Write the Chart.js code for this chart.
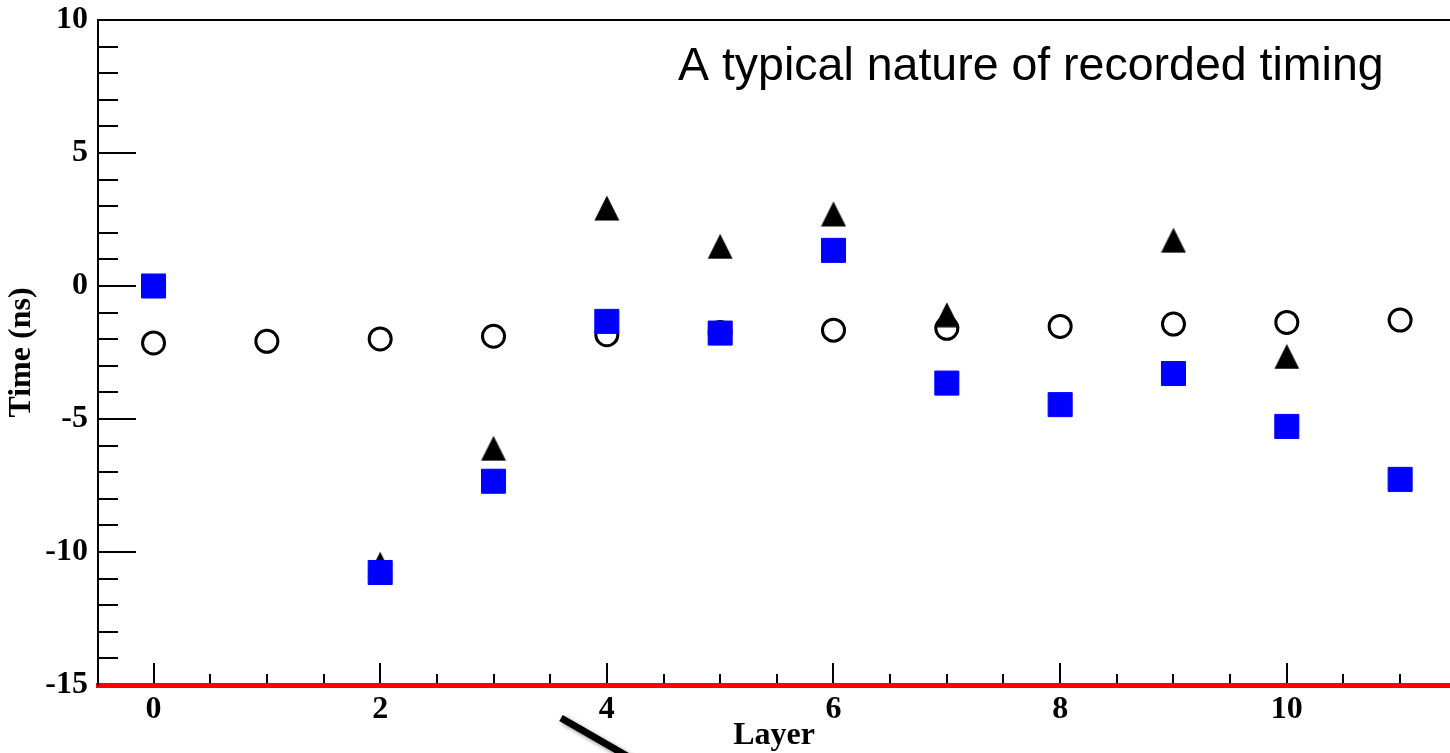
<!DOCTYPE html>
<html>
<head>
<meta charset="utf-8">
<title>Layer timing</title>
<script src="https://cdn.jsdelivr.net/npm/chart.js@4.4.1/dist/chart.umd.min.js"></script>
<style>
  html, body { margin: 0; padding: 0; background: #ffffff; overflow: hidden; }
  canvas { display: block; }
</style>
</head>
<body>
<canvas id="timingChart" width="1450" height="753"></canvas>
<script>
// per-layer recorded times (ns)
const circleLayers = [0, 1, 2, 3, 4, 5, 6, 7, 8, 9, 10, 11];
const circleTimes = [-2.14, -2.08, -1.99, -1.89, -1.83, -1.75, -1.66, -1.59, -1.52, -1.43, -1.37, -1.28];

const triangleLayers = [2, 3, 4, 5, 6, 7, 9, 10];
const triangleTimes = [-10.46, -6.10, 2.93, 1.49, 2.71, -1.08, 1.72, -2.65];

const squareLayers = [0, 2, 3, 4, 5, 6, 7, 8, 9, 10, 11];
const squareTimes = [0, -10.77, -7.34, -1.33, -1.77, 1.34, -3.65, -4.46, -3.29, -5.28, -7.27];

const xTickLabels = [0, 2, 4, 6, 8, 10];
const yTickLabels = [-15, -10, -5, 0, 5, 10];
const noteText = 'A typical nature of recorded timing';

const toPoints = (xs, ys) => xs.map((x, i) => ({ x: x, y: ys[i] }));

const serif = { family: '"Liberation Serif", "Times New Roman", serif', size: 32, weight: 'bold' };

// filled triangle marker, as wide as it is tall
function triangleMarker(size) {
  const c = document.createElement('canvas');
  c.width = size;
  c.height = size;
  const g = c.getContext('2d');
  g.fillStyle = '#000';
  g.beginPath();
  g.moveTo(size / 2, 0.5);
  g.lineTo(size - 0.5, size - 0.5);
  g.lineTo(0.5, size - 0.5);
  g.closePath();
  g.fill();
  return c;
}

// no extra room for the end labels, the frame sits at fixed offsets
const noEdgePadding = s => {
  s.paddingTop = 0;
  s.paddingBottom = 0;
  s.paddingLeft = 0;
  s.paddingRight = 0;
};

// small inward tick marks, top frame line, note text and pointer line
const decorations = {
  id: 'decorations',
  afterDraw(chart) {
    const ctx = chart.ctx;
    const area = chart.chartArea;
    const xs = chart.scales.x;
    const ys = chart.scales.y;
    ctx.save();
    ctx.strokeStyle = '#000';
    ctx.lineWidth = 2;

    // frame top
    ctx.beginPath();
    ctx.moveTo(area.left - 1, area.top);
    ctx.lineTo(area.right, area.top);
    ctx.stroke();

    // y ticks every 1 ns, longer every 5
    for (let v = ys.min + 1; v < ys.max; v++) {
      const py = Math.round(ys.getPixelForValue(v));
      const len = v % 5 === 0 ? 38 : 20;
      ctx.beginPath();
      ctx.moveTo(area.left, py);
      ctx.lineTo(area.left + len, py);
      ctx.stroke();
    }

    // x ticks every half layer, longer on labelled layers
    for (let v = 0; v <= xs.max; v += 0.5) {
      const px = Math.round(xs.getPixelForValue(v));
      const len = (v % 2 === 0) ? 20 : 9;
      ctx.beginPath();
      ctx.moveTo(px, area.bottom - 2);
      ctx.lineTo(px, area.bottom - 2 - len);
      ctx.stroke();
    }

    // note
    ctx.fillStyle = '#000';
    ctx.font = '46.5px "Liberation Sans", Arial, sans-serif';
    ctx.textBaseline = 'alphabetic';
    ctx.textAlign = 'left';
    ctx.fillText(noteText, 678, 80);

    // pointer line below the axis
    ctx.shadowColor = 'rgba(0,0,0,0.45)';
    ctx.shadowBlur = 4;
    ctx.shadowOffsetX = 2;
    ctx.shadowOffsetY = 2;
    ctx.lineWidth = 7;
    ctx.lineCap = 'butt';
    ctx.beginPath();
    ctx.moveTo(561, 718);
    ctx.lineTo(700, 798);
    ctx.stroke();
    ctx.restore();
  }
};

new Chart(document.getElementById('timingChart'), {
  type: 'scatter',
  data: {
    datasets: [
      {
        label: 'squares',
        data: toPoints(squareLayers, squareTimes),
        pointStyle: 'rect',
        pointRadius: 17,
        backgroundColor: '#0000ff',
        borderColor: '#0000ff',
        borderWidth: 1
      },
      {
        label: 'triangles',
        data: toPoints(triangleLayers, triangleTimes),
        pointStyle: triangleMarker(26),
        pointRadius: 13,
        backgroundColor: '#000000',
        borderColor: '#000000',
        borderWidth: 0
      },
      {
        label: 'circles',
        data: toPoints(circleLayers, circleTimes),
        pointStyle: 'circle',
        pointRadius: 11,
        backgroundColor: 'rgba(0,0,0,0)',
        borderColor: '#000000',
        borderWidth: 3
      }
    ]
  },
  options: {
    responsive: false,
    animation: false,
    layout: { autoPadding: false, padding: { top: 20, left: 0, right: 0, bottom: 0 } },
    plugins: {
      legend: { display: false },
      tooltip: { enabled: false }
    },
    scales: {
      x: {
        type: 'linear',
        min: -0.49,
        max: 11.44,
        afterBuildTicks: s => { s.ticks = xTickLabels.map(v => ({ value: v })); },
        afterFit: s => { s.height = 68; noEdgePadding(s); },
        grid: { display: false, drawTicks: false },
        border: { display: true, color: '#ff0000', width: 5 },
        ticks: { font: serif, color: '#000', padding: 6, maxRotation: 0, autoSkip: false },
        title: {
          display: true, text: 'Layer', color: '#000',
          font: Object.assign({}, serif, { lineHeight: 1.0 }),
          padding: { top: 0, bottom: 1 }
        }
      },
      y: {
        min: -15,
        max: 10,
        afterBuildTicks: s => { s.ticks = yTickLabels.map(v => ({ value: v })); },
        afterFit: s => { s.width = 98; noEdgePadding(s); },
        grid: { display: false, drawTicks: false },
        border: { display: true, color: '#000', width: 2 },
        ticks: { font: serif, color: '#000', padding: 10 },
        title: { display: true, text: 'Time (ns)', font: serif, color: '#000', padding: { top: 3, bottom: 0 } }
      }
    }
  },
  plugins: [decorations]
});
</script>
</body>
</html>
